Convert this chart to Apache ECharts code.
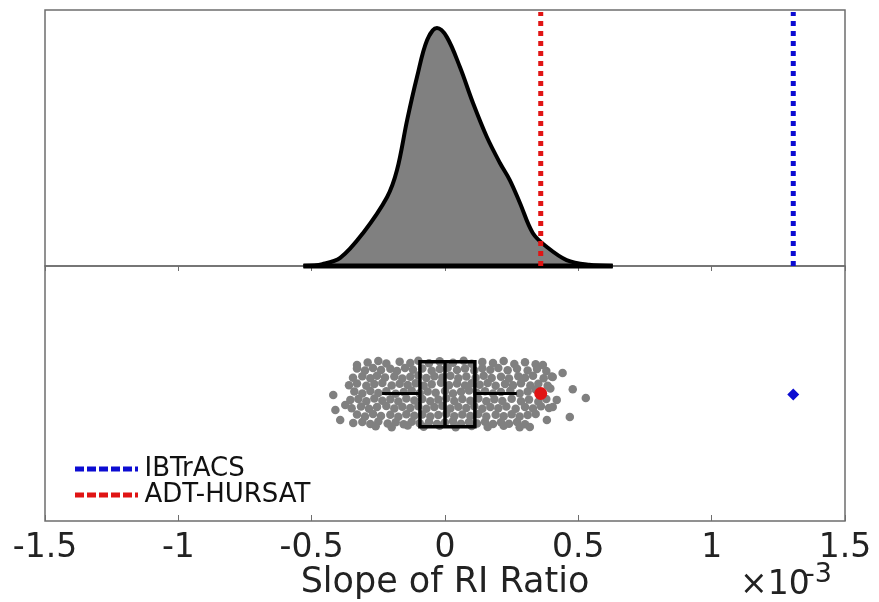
<!DOCTYPE html>
<html>
<head>
<meta charset="utf-8">
<script src="https://cdn.jsdelivr.net/npm/echarts@6/dist/echarts.min.js"></script>
<style>
  html, body { margin: 0; padding: 0; background: #fff; }
  #chart { width: 879px; height: 602px; }
</style>
</head>
<body>
<div id="chart"></div>
<script>
// x values are in units of 1e-3
const xTicks = [-1.5, -1, -0.5, 0, 0.5, 1, 1.5];

// kernel density outline (x, relative height)
const densityX = [-0.531, -0.46, -0.393, -0.307, -0.217, -0.18, -0.142, -0.105, -0.067, -0.03, 0.007, 0.056, 0.105, 0.157, 0.206, 0.243, 0.281, 0.329, 0.382, 0.456, 0.54, 0.629];
const densityY = [0, 0.008, 0.034, 0.139, 0.29, 0.403, 0.613, 0.794, 0.95, 1.0, 0.962, 0.836, 0.685, 0.542, 0.433, 0.361, 0.265, 0.139, 0.08, 0.025, 0.005, 0];

// observed slopes
const ibtracsSlope = 1.306;
const adtSlope = 0.359;

// box plot stats: whisker low, q1, median, q3, whisker high
const boxStats = [-0.236, -0.094, 0.0, 0.112, 0.269];

// jittered bootstrap samples [slope, jitter]
const samples = [
  [-0.29,0.622],[-0.25,0.627],[-0.22,0.618],[-0.17,0.625],[-0.13,0.62],[-0.1,0.628],[-0.06,0.619],[-0.02,0.626],[0.03,0.621],[0.07,0.628],[0.1,0.617],[0.14,0.624],[0.18,0.62],[0.22,0.627],[0.26,0.616],[0.3,0.623],[0.34,0.615],
  [-0.33,0.598],[-0.3,0.59],[-0.27,0.6],[-0.24,0.592],[-0.205,0.597],[-0.18,0.588],[-0.15,0.6],[-0.12,0.593],[-0.085,0.598],[-0.05,0.589],[-0.02,0.596],[0.01,0.601],[0.045,0.592],[0.075,0.598],[0.11,0.59],[0.14,0.599],[0.17,0.593],[0.2,0.6],[0.235,0.591],[0.27,0.597],[0.31,0.59],[0.345,0.596],[0.38,0.588],
  [-0.345,0.562],[-0.31,0.568],[-0.28,0.56],[-0.255,0.57],[-0.225,0.563],[-0.19,0.567],[-0.16,0.559],[-0.13,0.566],[-0.1,0.571],[-0.07,0.561],[-0.04,0.568],[-0.01,0.563],[0.02,0.57],[0.05,0.56],[0.08,0.567],[0.115,0.562],[0.145,0.57],[0.175,0.561],[0.21,0.566],[0.24,0.559],[0.275,0.568],[0.3,0.562],[0.33,0.57],[0.37,0.56],[0.4,0.567],
  [-0.36,0.532],[-0.33,0.539],[-0.295,0.53],[-0.265,0.537],[-0.235,0.541],[-0.2,0.531],[-0.17,0.538],[-0.14,0.533],[-0.11,0.54],[-0.08,0.53],[-0.05,0.536],[-0.015,0.542],[0.015,0.532],[0.045,0.539],[0.075,0.531],[0.1,0.54],[0.13,0.534],[0.16,0.541],[0.19,0.53],[0.225,0.537],[0.255,0.532],[0.285,0.54],[0.32,0.531],[0.35,0.538],[0.385,0.53],
  [-0.34,0.508],[-0.31,0.5],[-0.28,0.51],[-0.25,0.502],[-0.22,0.509],[-0.185,0.499],[-0.155,0.506],[-0.125,0.512],[-0.095,0.501],[-0.065,0.508],[-0.035,0.503],[0.0,0.51],[0.03,0.5],[0.06,0.507],[0.09,0.512],[0.12,0.502],[0.15,0.509],[0.18,0.5],[0.21,0.506],[0.245,0.511],[0.28,0.5],[0.31,0.508],[0.34,0.516],[0.395,0.52],
  [-0.325,0.478],[-0.295,0.47],[-0.265,0.48],[-0.235,0.472],[-0.205,0.477],[-0.175,0.469],[-0.145,0.48],[-0.115,0.473],[-0.085,0.478],[-0.055,0.47],[-0.025,0.476],[0.005,0.481],[0.035,0.471],[0.065,0.478],[0.095,0.472],[0.125,0.48],[0.155,0.47],[0.185,0.477],[0.215,0.471],[0.25,0.479],[0.285,0.47],[0.315,0.476],[0.35,0.468],[0.38,0.478],
  [-0.35,0.442],[-0.315,0.449],[-0.285,0.44],[-0.255,0.447],[-0.22,0.451],[-0.19,0.441],[-0.16,0.448],[-0.13,0.443],[-0.1,0.45],[-0.07,0.44],[-0.04,0.447],[-0.01,0.452],[0.02,0.441],[0.05,0.448],[0.08,0.443],[0.11,0.45],[0.14,0.44],[0.17,0.447],[0.2,0.442],[0.23,0.449],[0.265,0.44],[0.3,0.447],[0.33,0.441],[0.36,0.45],[0.39,0.443],
  [-0.33,0.418],[-0.3,0.41],[-0.27,0.42],[-0.24,0.412],[-0.205,0.417],[-0.175,0.409],[-0.145,0.419],[-0.115,0.413],[-0.085,0.418],[-0.055,0.41],[-0.025,0.416],[0.005,0.421],[0.035,0.411],[0.065,0.418],[0.095,0.412],[0.125,0.42],[0.155,0.41],[0.19,0.417],[0.22,0.411],[0.25,0.419],[0.28,0.41],[0.31,0.416],[0.34,0.42],
  [-0.31,0.388],[-0.28,0.38],[-0.25,0.39],[-0.215,0.382],[-0.185,0.387],[-0.155,0.379],[-0.125,0.389],[-0.095,0.383],[-0.06,0.388],[-0.03,0.38],[0.0,0.386],[0.03,0.391],[0.06,0.381],[0.09,0.388],[0.12,0.382],[0.15,0.389],[0.18,0.38],[0.21,0.387],[0.24,0.381],[0.27,0.388],[0.3,0.379],
  [-0.26,0.372],[-0.2,0.368],[-0.14,0.375],[-0.08,0.37],[-0.02,0.374],[0.04,0.368],[0.1,0.373],[0.16,0.369],[0.22,0.374],[0.28,0.368],
  [-0.419,0.494],[-0.411,0.435],[-0.393,0.396],[-0.374,0.455],[-0.355,0.475],[-0.344,0.384],[-0.33,0.612],
  [0.479,0.517],[0.528,0.482],[0.468,0.408],[0.441,0.58],[0.404,0.565],[0.367,0.612],[0.404,0.447],[0.382,0.396],[0.318,0.369],[0.419,0.475]
];

const axisGray = '#6e6e6e';
const redC = '#e01414';
const blueC = '#0c0cd2';

// dotted legend swatch: five squares and a short stub
const dotIcon = 'path://M0,0h9v5h-9z M12,0h9v5h-9z M24,0h9v5h-9z M36,0h9v5h-9z M48,0h9v5h-9z M60,0h3v5h-3z';

let myChart = echarts.init(document.getElementById('chart'));

myChart.setOption({
  animation: false,
  backgroundColor: '#fff',
  textStyle: { fontFamily: 'DejaVu Sans' },
  grid: [
    { left: 45, right: 34, top: 10, height: 256, show: true, borderColor: axisGray, borderWidth: 1.5 },
    { left: 45, right: 34, top: 266, height: 255, show: true, borderColor: axisGray, borderWidth: 1.5 }
  ],
  xAxis: [
    {
      gridIndex: 0, type: 'value', position: 'top', min: -1.5, max: 1.5, interval: 0.5,
      axisLine: { show: false },
      axisTick: { show: true, inside: true, length: 5, lineStyle: { color: axisGray } },
      axisLabel: { show: false },
      splitLine: { show: false }
    },
    {
      gridIndex: 1, type: 'value', position: 'bottom', min: -1.5, max: 1.5, interval: 0.5,
      axisLine: { show: false },
      axisTick: { show: true, inside: true, length: 6, lineStyle: { color: axisGray } },
      axisLabel: {
        color: '#222', fontSize: 33, margin: 11,
        formatter: v => String(xTicks.find(t => Math.abs(t - v) < 1e-9))
      },
      splitLine: { show: false },
      name: 'Slope of RI Ratio', nameLocation: 'middle', nameGap: 43,
      nameTextStyle: { color: '#222', fontSize: 35 }
    }
  ],
  yAxis: [
    { gridIndex: 0, type: 'value', min: 0, max: 1.076, show: false },
    { gridIndex: 1, type: 'value', min: 0, max: 1, show: false }
  ],
  legend: {
    orient: 'vertical', left: 70, top: 451,
    itemWidth: 68, itemHeight: 5, itemGap: 0,
    data: [
      { name: 'IBTrACS', icon: dotIcon, itemStyle: { color: blueC } },
      { name: 'ADT-HURSAT', icon: dotIcon, itemStyle: { color: redC } }
    ],
    textStyle: { color: '#111', fontSize: 26, padding: [0, 0, 0, -1] }
  },
  graphic: [
    { type: 'text', left: 740, top: 569, style: { text: '\u00d710', fontSize: 33, fill: '#222', fontFamily: 'DejaVu Sans' } },
    { type: 'text', left: 805, top: 561, style: { text: '-3', fontSize: 27, fill: '#222', fontFamily: 'DejaVu Sans' } }
  ],
  series: [
    {
      name: 'density', type: 'line', xAxisIndex: 0, yAxisIndex: 0,
      data: densityX.map((x, i) => [x, densityY[i]]),
      smooth: 0.35, symbol: 'none', clip: false,
      lineStyle: { color: '#000', width: 4 },
      areaStyle: { color: '#808080', opacity: 1 },
      z: 2
    },
    {
      name: 'base', type: 'line', xAxisIndex: 0, yAxisIndex: 0,
      data: [[densityX[0], 0], [densityX[densityX.length - 1], 0]],
      symbol: 'none', clip: false,
      lineStyle: { color: '#000', width: 5 },
      z: 3
    },
    {
      name: 'IBTrACS', type: 'line', xAxisIndex: 0, yAxisIndex: 0,
      data: [[ibtracsSlope, 0], [ibtracsSlope, 1.068]],
      symbol: 'none', clip: false,
      itemStyle: { color: blueC },
      lineStyle: { color: blueC, width: 5, type: [5, 5] },
      z: 4
    },
    {
      name: 'ADT-HURSAT', type: 'line', xAxisIndex: 0, yAxisIndex: 0,
      data: [[adtSlope, 0], [adtSlope, 1.068]],
      symbol: 'none', clip: false,
      itemStyle: { color: redC },
      lineStyle: { color: redC, width: 5, type: [5, 5] },
      z: 4
    },
    {
      name: 'samples', type: 'scatter', xAxisIndex: 1, yAxisIndex: 1,
      data: samples, symbolSize: 8.5,
      itemStyle: { color: '#808080', opacity: 1 },
      z: 2
    },
    {
      name: 'box', type: 'custom', xAxisIndex: 1, yAxisIndex: 1,
      data: [boxStats],
      renderItem: function (params, api) {
        const lo = api.coord([boxStats[0], 0.5]);
        const q1 = api.coord([boxStats[1], 0.625]);
        const md = api.coord([boxStats[2], 0.5]);
        const q3 = api.coord([boxStats[3], 0.37]);
        const hi = api.coord([boxStats[4], 0.5]);
        const st = { stroke: '#000', lineWidth: 3.5, fill: null };
        return {
          type: 'group',
          children: [
            { type: 'line', shape: { x1: lo[0], y1: lo[1], x2: q1[0], y2: lo[1] }, style: { stroke: '#000', lineWidth: 3 } },
            { type: 'line', shape: { x1: q3[0], y1: hi[1], x2: hi[0], y2: hi[1] }, style: { stroke: '#000', lineWidth: 3 } },
            { type: 'rect', shape: { x: q1[0], y: q1[1], width: q3[0] - q1[0], height: q3[1] - q1[1] }, style: st },
            { type: 'line', shape: { x1: md[0], y1: q1[1], x2: md[0], y2: q3[1] }, style: { stroke: '#000', lineWidth: 3.5 } }
          ]
        };
      },
      z: 3
    },
    {
      name: 'adtPoint', type: 'scatter', xAxisIndex: 1, yAxisIndex: 1,
      data: [[adtSlope, 0.5]], symbol: 'circle', symbolSize: 13,
      itemStyle: { color: redC, opacity: 1 }, z: 5
    },
    {
      name: 'ibtPoint', type: 'scatter', xAxisIndex: 1, yAxisIndex: 1,
      data: [[ibtracsSlope, 0.496]], symbol: 'diamond', symbolSize: 12,
      itemStyle: { color: blueC, opacity: 1 }, z: 5
    }
  ]
});
</script>
</body>
</html>
